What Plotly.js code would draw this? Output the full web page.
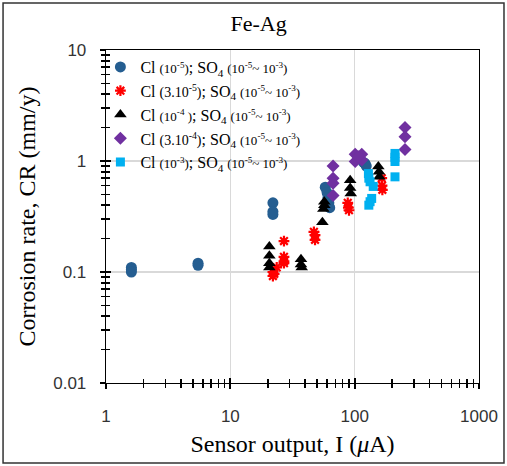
<!DOCTYPE html>
<html><head><meta charset="utf-8">
<script src="https://cdn.plot.ly/plotly-3.0.1.min.js"></script>
<style>html,body{margin:0;padding:0;background:#fff;}#chart{width:507px;height:466px;}</style>
</head><body><div id="chart"></div>
<script>
// Series names
const seriesNames = [
  "Cl <span style='font-size:13px'>(10<sup>-5</sup>)</span>; SO<sub>4</sub> <span style='font-size:13px'>(10<sup>-5</sup>~ 10<sup>-3</sup>)</span>",
  "Cl <span style='font-size:14px'>(3.10<sup>-5</sup>)</span>; SO<sub>4</sub> <span style='font-size:13px'>(10<sup>-5</sup>~ 10<sup>-3</sup>)</span>",
  "Cl <span style='font-size:13px'>(10<sup>-4</sup> )</span>; SO<sub>4</sub> <span style='font-size:13px'>(10<sup>-5</sup>~ 10<sup>-3</sup>)</span>",
  "Cl <span style='font-size:14px'>(3.10<sup>-4</sup>)</span>; SO<sub>4</sub> <span style='font-size:13px'>(10<sup>-5</sup>~ 10<sup>-3</sup>)</span>",
  "Cl <span style='font-size:13px'>(10<sup>-3</sup>)</span>; SO<sub>4</sub> <span style='font-size:13px'>(10<sup>-5</sup>~ 10<sup>-3</sup>)</span>"
];

// Cl 1e-5
const s1X = [1.6, 1.6, 1.6, 5.5, 5.5, 22, 22, 22, 58, 60, 61, 62, 63, 118, 121, 124];
const s1Y = [0.11, 0.105, 0.10, 0.12, 0.115, 0.42, 0.35, 0.33, 0.58, 0.52, 0.47, 0.42, 0.38, 0.97, 0.95, 0.90];
// Cl 3e-5
const s2X = [22, 22, 22.5, 23.6, 27, 27, 27, 27, 47, 48, 48, 88, 89, 90, 165, 166, 167];
const s2Y = [0.10, 0.092, 0.096, 0.11, 0.19, 0.137, 0.125, 0.12, 0.23, 0.215, 0.195, 0.42, 0.38, 0.36, 0.70, 0.60, 0.55];
// Cl 1e-4
const s3X = [20.6, 20.6, 20.6, 20.6, 37, 37, 37.5, 55, 56, 57, 57, 92, 92, 93, 155, 157, 158];
const s3Y = [0.17, 0.14, 0.12, 0.11, 0.13, 0.117, 0.11, 0.28, 0.37, 0.40, 0.43, 0.67, 0.57, 0.51, 0.89, 0.80, 0.72];
// Cl 3e-4
const s4X = [67, 67, 67, 67, 101, 114, 101, 114, 107, 254, 254, 254];
const s4Y = [0.90, 0.70, 0.63, 0.49, 1.15, 1.15, 0.99, 1.02, 1.09, 2.0, 1.65, 1.27];
// Cl 1e-3
const s5X = [129, 130, 133, 141, 137, 133, 130, 211, 211, 211, 211];
const s5Y = [0.77, 0.70, 0.65, 0.59, 0.46, 0.43, 0.40, 1.17, 1.08, 0.99, 0.72];

// Axis ticks
const xTickVals = [1, 10, 100, 1000];
const xTickText = ['1', '10', '100', '1000'];
const yTickVals = [0.01, 0.1, 1, 10];
const yTickText = ['0.01', '0.1', '1', '10'];
const xMinorVals = [2,3,4,5,6,7,8,9,20,30,40,50,60,70,80,90,200,300,400,500,600,700,800,900];
const yMinorVals = [0.02,0.03,0.04,0.05,0.06,0.07,0.08,0.09,0.2,0.3,0.4,0.5,0.6,0.7,0.8,0.9,2,3,4,5,6,7,8,9];

const serif = "Liberation Serif, Times New Roman, serif";
const sans = "Liberation Sans, Arial, sans-serif";
const xRange = [0, 3], yRange = [-2, 1];

function tr(x, y, name, marker) {
  return {x: x, y: y, name: name, type: 'scatter', mode: 'markers', marker: marker, xaxis: 'x', yaxis: 'y'};
}
const traces = [
  tr(s1X, s1Y, seriesNames[0], {symbol: 'circle', size: 11, color: '#255E91'}),
  tr(s2X, s2Y, seriesNames[1], {symbol: 'asterisk-open', size: 9, color: '#FF0000', line: {color: '#FF0000', width: 2.2}}),
  tr(s3X, s3Y, seriesNames[2], {symbol: 'triangle-up', size: 11, color: '#000000'}),
  tr(s4X, s4Y, seriesNames[3], {symbol: 'diamond', size: 10, color: '#7030A0'}),
  tr(s5X, s5Y, seriesNames[4], {symbol: 'square', size: 9, color: '#00B0F0'})
];
// empty helper traces so the tick-only overlay axes get drawn
['2', '3'].forEach(function (k) {
  traces.push({x: [], y: [], xaxis: 'x' + k, yaxis: 'y' + k, type: 'scatter', mode: 'markers', showlegend: false, hoverinfo: 'skip'});
});

function tickAxis(range, vals, minorVals, ticks, overlay, anchor, side) {
  return {
    type: 'log', range: range, tickmode: 'array', tickvals: vals,
    overlaying: overlay, anchor: anchor, side: side,
    showgrid: false, showline: false, zeroline: false, showticklabels: false,
    ticks: ticks, ticklen: 5, tickwidth: 2, tickcolor: '#000',
    minor: {tickvals: minorVals, ticks: ticks, ticklen: 4, tickwidth: 1.5, tickcolor: '#000', showgrid: false}
  };
}

const layout = {
  width: 507, height: 466,
  margin: {l: 106, r: 28, t: 50, b: 83},
  paper_bgcolor: '#fff', plot_bgcolor: '#fff',
  showlegend: true,
  title: {text: 'Fe-Ag', font: {family: serif, size: 22, color: '#000'}, x: 0.51, xanchor: 'center', y: 0.95, yanchor: 'middle'},
  xaxis: {
    type: 'log', range: xRange, tickmode: 'array', tickvals: xTickVals, ticktext: xTickText,
    showgrid: true, gridcolor: '#D9D9D9', gridwidth: 1.5,
    showline: true, linecolor: '#000', linewidth: 1.3, mirror: true, zeroline: false,
    ticks: '', tickfont: {family: sans, size: 17, color: '#333'},
    ticklabelstandoff: 17,
    title: {text: 'Sensor output, I (<i>μ</i>A)', font: {family: serif, size: 24, color: '#000'}, standoff: 10}
  },
  yaxis: {
    type: 'log', range: yRange, tickmode: 'array', tickvals: yTickVals, ticktext: yTickText,
    showgrid: true, gridcolor: '#D9D9D9', gridwidth: 1.5,
    showline: true, linecolor: '#000', linewidth: 1.3, mirror: true, zeroline: false,
    ticks: '', tickfont: {family: sans, size: 17, color: '#333'},
    ticklabelstandoff: 15,
    title: {text: 'Corrosion rate, CR (mm/y)', font: {family: serif, size: 24, color: '#000'}, standoff: 10}
  },
  // tick marks crossing the axes: outside half and inside half
  xaxis2: tickAxis(xRange, xTickVals, xMinorVals, 'outside', 'x', 'y2', 'bottom'),
  yaxis2: tickAxis(yRange, yTickVals, yMinorVals, 'outside', 'y', 'x2', 'left'),
  xaxis3: tickAxis(xRange, xTickVals, xMinorVals, 'inside', 'x', 'y3', 'bottom'),
  yaxis3: tickAxis(yRange, yTickVals, yMinorVals, 'inside', 'y', 'x3', 'left'),
  legend: {
    x: -0.015, y: 1.0, xanchor: 'left', yanchor: 'top',
    bgcolor: 'rgba(255,255,255,0)', borderwidth: 0,
    font: {family: serif, size: 16, color: '#000'},
    itemwidth: 30, tracegroupgap: 0
  },
  shapes: [
    {type: 'rect', xref: 'paper', yref: 'paper', x0: 0.005, x1: 0.574, y0: 0.625, y1: 0.995, fillcolor: '#fff', line: {width: 0}, layer: 'between'},
    {type: 'rect', xref: 'paper', yref: 'paper', x0: -0.276, x1: 1.067, y0: -0.24, y1: 1.141, fillcolor: 'rgba(0,0,0,0)', line: {color: '#333', width: 1.5}, layer: 'above'}
  ]
};

Plotly.newPlot('chart', traces, layout, {displayModeBar: false, staticPlot: true});
</script></body></html>
